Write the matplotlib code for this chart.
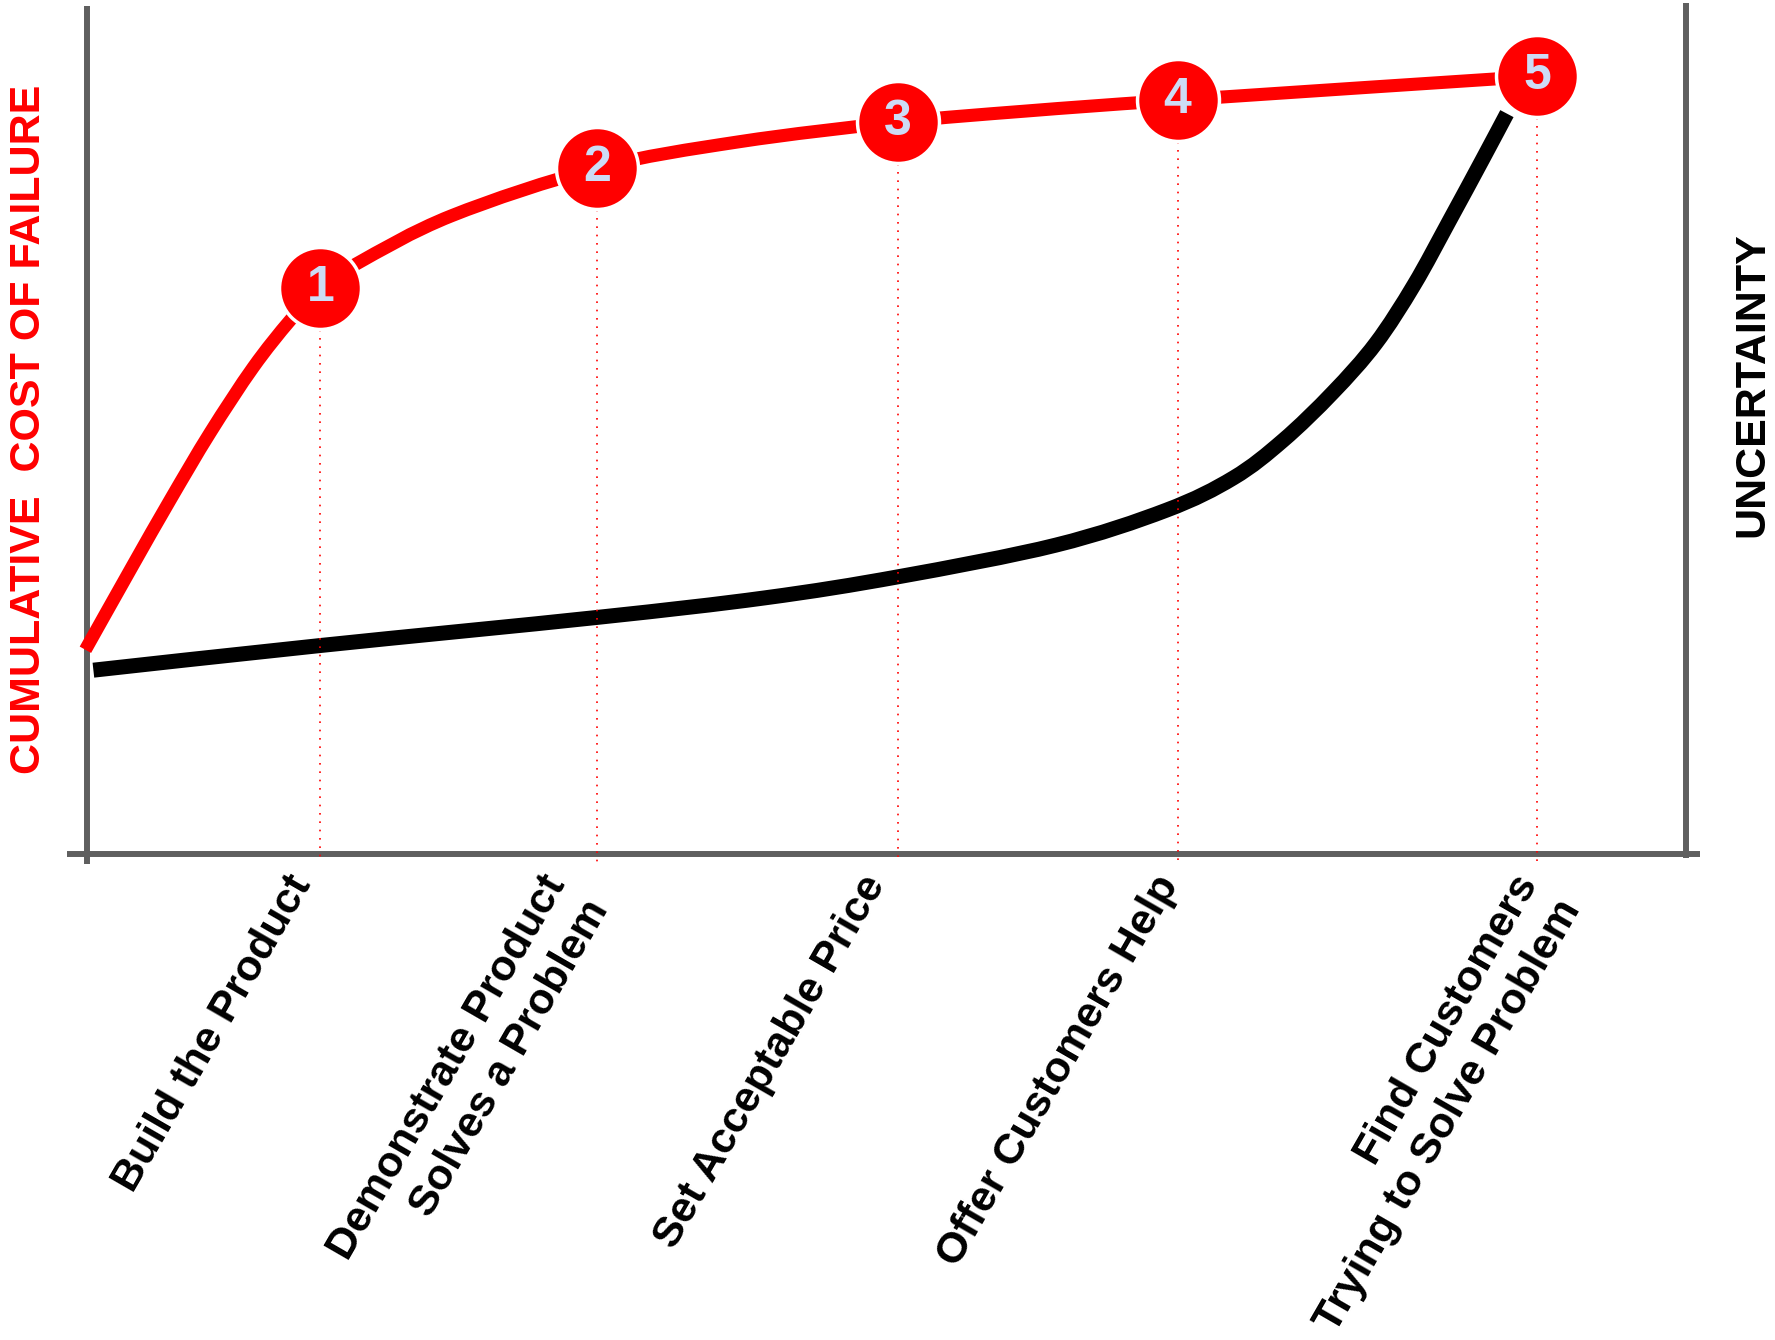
import matplotlib
matplotlib.use("Agg")
import matplotlib.pyplot as plt
from matplotlib.path import Path
from matplotlib.patches import PathPatch

plt.rcParams['font.family'] = ['Liberation Sans', 'DejaVu Sans']
plt.rcParams['font.weight'] = 'bold'

# stages along the x axis (0-100 scale) and labels
stage_x = [14.6, 31.9, 50.7, 68.2, 90.7]
stage_labels = ["Build the Product",
                "Demonstrate Product\nSolves a Problem",
                "Set Acceptable Price",
                "Offer Customers Help",
                "Find Customers\nTrying to Solve Problem"]
stage_nums = ["1", "2", "3", "4", "5"]
stage_cost = [66.5, 80.6, 86.0, 88.6, 91.4]

# cumulative cost of failure (red curve)
cost_x = [-0.1, 2.8, 5.2, 7.7, 10.4, 12.7, 14.6, 16.9, 22.8, 31.9,
          40.8, 50.7, 58.7, 68.2, 90.7]
cost_y = [24.0, 33.7, 41.6, 49.5, 57.2, 62.7, 66.5, 69.4, 75.0, 80.6,
          83.7, 86.0, 87.3, 88.6, 91.4]

# uncertainty (black curve)
unc_x = [0.4, 14.6, 31.9, 42.4, 50.8, 60.6, 67.5, 71.7, 74.8, 77.9, 80.6, 83.0, 85.2, 87.3, 88.8]
unc_y = [21.6, 24.5, 27.8, 30.1, 32.6, 36.3, 40.4, 44.2, 48.6, 54.2, 60.0, 66.9, 74.4, 81.7, 87.0]


def smooth_path(xs, ys):
    # catmull-rom through the read points, as cubic bezier segments
    pts = list(zip(xs, ys))
    verts = [pts[0]]
    codes = [Path.MOVETO]
    n = len(pts)
    for i in range(n - 1):
        p0 = pts[max(i - 1, 0)]
        p1 = pts[i]
        p2 = pts[i + 1]
        p3 = pts[min(i + 2, n - 1)]
        c1 = (p1[0] + (p2[0] - p0[0]) / 6, p1[1] + (p2[1] - p0[1]) / 6)
        c2 = (p2[0] - (p3[0] - p1[0]) / 6, p2[1] - (p3[1] - p1[1]) / 6)
        verts += [c1, c2, p2]
        codes += [Path.CURVE4] * 3
    return Path(verts, codes)


W, H = 1775, 1340
fig = plt.figure(figsize=(W / 100, H / 100), dpi=100)
ax = fig.add_axes([87 / W, (H - 854) / H, (1686 - 87) / W, (854 - 3) / H])
ax.set_xlim(0, 100)
ax.set_ylim(0, 100)
ax.axis('off')

grey = '#5f5f5f'
# axis lines
ax.plot([0, 0], [-1.2, 99.6], color=grey, lw=4.3, clip_on=False, zorder=1, solid_capstyle='butt')
ax.plot([-1.25, 100.9], [0, 0], color=grey, lw=4.3, clip_on=False, zorder=1, solid_capstyle='butt')
ax.plot([100, 100], [-0.5, 100], color=grey, lw=4.3, clip_on=False, zorder=1, solid_capstyle='butt')

ax.add_patch(PathPatch(smooth_path(unc_x, unc_y), facecolor='none', edgecolor='black',
                       lw=10.8, capstyle='butt', joinstyle='round', clip_on=False, zorder=2))
ax.add_patch(PathPatch(smooth_path(cost_x, cost_y), facecolor='none', edgecolor='#ff0000',
                       lw=9.4, capstyle='butt', joinstyle='round', clip_on=False, zorder=3))

# dotted drop lines
for x, y in zip(stage_x, stage_cost):
    ax.plot([x, x], [y, -0.95], color='#ff0000', lw=1.2, linestyle=(0, (1, 4)),
            clip_on=False, zorder=4)

# numbered markers
ax.scatter(stage_x, stage_cost, s=59 ** 2, color='#ff0000', edgecolors='white',
           linewidths=2.5, zorder=5, clip_on=False)
for x, y, n in zip(stage_x, stage_cost, stage_nums):
    ax.text(x, y, n, color='#cddbf5', fontsize=36, fontweight='bold',
            ha='center', va='center', zorder=6)

# rotated stage labels
label_dx = [-2.24, -3.6, -2.4, -1.6, -1.6]
for x, dx, lab in zip(stage_x, label_dx, stage_labels):
    ax.text(x + dx, -1.7, lab, rotation=60, rotation_mode='anchor',
            ha='right', va='top', multialignment='right',
            fontsize=31, fontweight='bold', color='black', linespacing=1.3)

fig.text(29 / W, 1 - 429 / H, "CUMULATIVE  COST OF FAILURE", rotation=90,
         ha='center', va='center', color='#ff0000', fontsize=31, fontweight='bold')
fig.text(1752 / W, 1 - 385 / H, "UNCERTAINTY", rotation=90,
         ha='center', va='center', color='black', fontsize=31, fontweight='bold')

fig.savefig("out.png", dpi=100, facecolor='white')
